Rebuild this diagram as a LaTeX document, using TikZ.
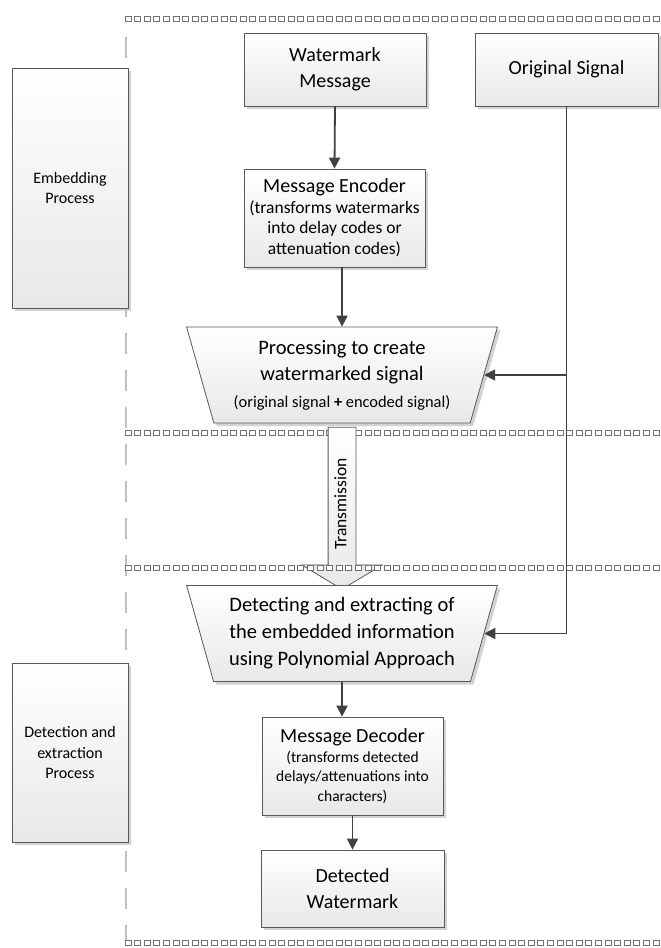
\documentclass[tikz,border=0pt]{standalone}
\usepackage{fontspec}
\setmainfont{Carlito}
\usetikzlibrary{positioning,arrows.meta,calc,shapes.geometric,shapes.arrows,shadows}
\newcommand{\bigtxt}{\fontsize{20}{26}\selectfont}
\newcommand{\smalltxt}{\fontsize{15.5}{19.5}\selectfont}
\newcommand{\sqline}[1]{\foreach \i in {0,...,55} \draw[sq] ({125+\i*9.6},{#1-2.75}) rectangle ++(6,5.5);}

\begin{document}
\begin{tikzpicture}[
    x=1pt, y=-1pt,
    shade/.style={top color=white, bottom color=black!9},
    shad/.style={drop shadow={shadow xshift=3pt, shadow yshift=-3pt, fill=black!22, opacity=0.8}},
    box/.style={draw=black!65, line width=0.8pt, shade, shad, align=center, inner sep=2pt},
    trap/.style={box, trapezium, shape border rotate=180, trapezium stretches=true,
        trapezium left angle=72.4, trapezium right angle=72.4, minimum width=312pt, minimum height=96pt},
    side/.style={box, font=\fontsize{16}{20.5}\selectfont, minimum width=116pt},
    arr/.style={-{Triangle[length=11pt, width=11pt]}, line width=1.8pt, draw=black!75},
    sq/.style={draw=black!55, line width=0.7pt, fill=white},
    vdash/.style={draw=black!55, double=black!25, line width=0.6pt, double distance=1.6pt, dash pattern=on 21pt off 16pt}
]
\useasboundingbox (0,0) rectangle (661,948);

% Frame
\draw[vdash] (126,37) -- (126,943);
\sqline{19}
\sqline{433}

% Side labels
\node[side, minimum height=240pt] (embed) at (70,188) {Embedding\\Process};
\node[side, minimum height=179pt] (detlbl) at (70,752.5) {Detection and\\extraction\\Process};

% Embedding
\node[box, font=\bigtxt, minimum width=182pt, minimum height=73pt] (wm) at (335,69.5) {Watermark\\Message};
\node[box, font=\bigtxt, minimum width=183pt, minimum height=73pt] (orig) at (566.5,69.5) {Original Signal};
\node[box, font=\fontsize{17.5}{20.5}\selectfont, minimum width=181pt, minimum height=98pt] (enc) at (334.5,218)
    {{\bigtxt Message Encoder}\\(transforms watermarks\\into delay codes or\\attenuation codes)};
\node[trap, font=\fontsize{20.5}{26.5}\selectfont] (proc) at (342,375)
    {Processing to create\\watermarked signal\\{\fontsize{16.4}{19}\selectfont (original signal \textbf{+} encoded signal)}};

% Transmission
\node[draw=black!65, line width=0.8pt, shade, single arrow, rotate=90, shape border rotate=180,
    single arrow head extend=26.5pt, single arrow tip angle=118, minimum height=162pt,
    text height=12pt, text depth=3.5pt, inner ysep=5.75pt, font=\fontsize{17.5}{20}\selectfont] (trans) at (342,504) {Transmission};
\sqline{568}
\sqline{943}

% Detection
\node[trap, font=\fontsize{20.5}{27}\selectfont] (det) at (342,633.5)
    {Detecting and extracting of\\the embedded information\\using Polynomial Approach};
\node[box, font=\smalltxt, minimum width=181pt, minimum height=98pt] (dec) at (352.5,766)
    {{\bigtxt Message Decoder}\\(transforms detected\\delays/attenuations into\\characters)};
\node[box, font=\bigtxt, minimum width=183pt, minimum height=77pt] (wmdet) at (352.5,888.5) {Detected\\Watermark};

% Arrows
\draw[arr] (wm.south) -- (enc.north);
\draw[arr] (enc.south -| proc.north) -- (proc.north);
\draw[arr] (orig.south) |- (det.east);
\draw[arr] (orig.south |- proc.east) -- (proc.east);
\draw[arr] (det.south) -- (det.south |- dec.north);
\draw[arr] (dec.south) -- (wmdet.north);

\end{tikzpicture}
\end{document}
